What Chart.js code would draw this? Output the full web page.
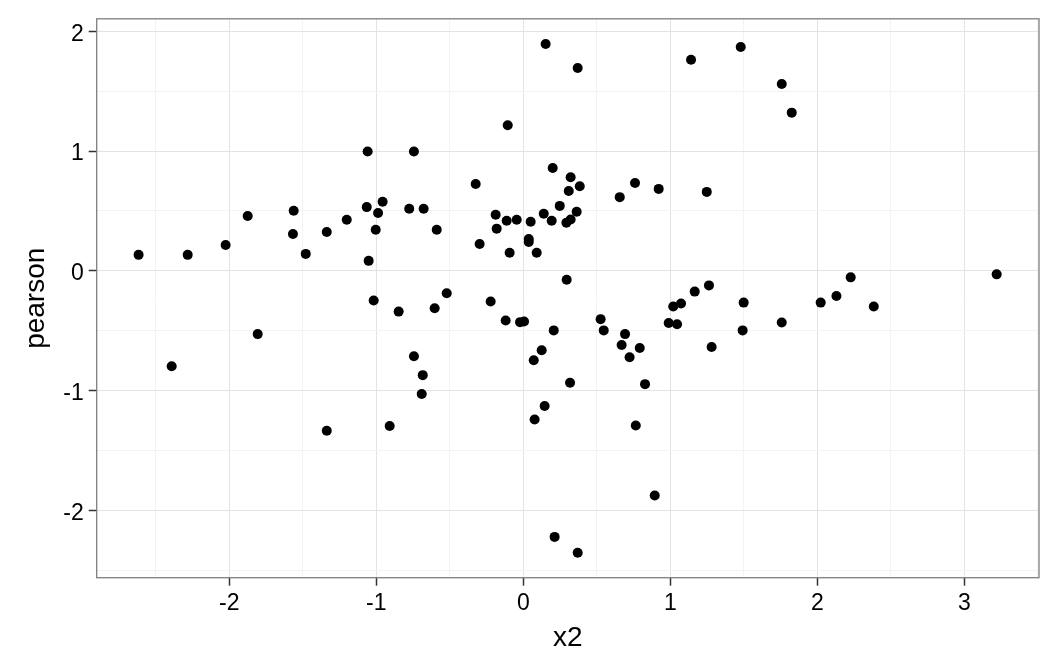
<!DOCTYPE html>
<html lang="en">
<head>
  <meta charset="UTF-8">
  <title>pearson vs x2</title>
  <script src="https://cdn.jsdelivr.net/npm/chart.js"></script>
  <style>
    html, body {
      margin: 0;
      padding: 0;
      background: #ffffff;
      overflow: hidden;
    }

    canvas {
      display: block;
    }
  </style>
</head>
<body>

<canvas id="scatterChart" width="1056" height="672"></canvas>

<script>
// values
const x2Values = [
  -2.617, -2.283, -2.025, -1.875, -1.562, -1.567, -1.480, -1.337, -1.201, -1.059,
  -1.065, -0.957, -0.988, -1.004, -1.052, -0.776, -0.744, -0.678, -0.589, -0.521,
  -0.324, -0.297, -0.106, -0.188, -0.181, -0.113, -0.045, -0.093, 0.050, 0.037,
  0.037, 0.091, 0.152, 0.370, 0.200, 0.322, 0.384, 0.309, 0.248, 0.139,
  0.193, 0.363, 0.293, 0.322, 0.656, 0.760, 0.921, 1.141, 1.248, 0.295,
  1.166, 1.263, 1.479, 1.758, 1.826, 2.227, 2.130, 3.220, -2.392, -1.807,
  -1.337, -1.018, -0.848, -0.909, -0.744, -0.684, -0.691, -0.603, -0.222, -0.120,
  -0.022, 0.005, 0.071, 0.125, 0.207, 0.318, 0.077, 0.145, 0.213, 0.370,
  0.526, 0.547, 0.692, 0.669, 0.723, 0.792, 0.828, 0.765, 0.894, 0.989,
  1.046, 1.020, 1.073, 1.281, 1.499, 1.492, 1.758, 2.023, 2.384
];

const pearsonValues = [
  0.133, 0.133, 0.216, 0.457, 0.501, 0.307, 0.141, 0.324, 0.426, 0.997,
  0.532, 0.576, 0.482, 0.343, 0.083, 0.518, 0.997, 0.518, 0.343, -0.187,
  0.725, 0.224, 1.215, 0.468, 0.352, 0.418, 0.426, 0.150, 0.410, 0.266,
  0.241, 0.150, 1.894, 1.694, 0.858, 0.781, 0.706, 0.667, 0.542, 0.476,
  0.418, 0.493, 0.401, 0.429, 0.615, 0.734, 0.684, 1.763, 0.659, -0.075,
  -0.174, -0.122, 1.869, 1.561, 1.321, -0.055, -0.210, -0.030, -0.797, -0.529,
  -1.337, -0.249, -0.341, -1.296, -0.714, -0.872, -1.030, -0.313, -0.257, -0.415,
  -0.429, -0.424, -0.748, -0.664, -0.498, -0.936, -1.243, -1.130, -2.223, -2.356,
  -0.404, -0.498, -0.529, -0.620, -0.723, -0.645, -0.947, -1.293, -1.877, -0.437,
  -0.446, -0.299, -0.274, -0.637, -0.266, -0.498, -0.432, -0.266, -0.299
];

const xRange = [-2.902, 3.508];
const yRange = [-2.564, 2.105];

const points = x2Values.map((x, i) => ({ x: x, y: pearsonValues[i] }));

const majorGrid = '#e3e3e3';
const minorGrid = '#f3f3f3';
const axisGrey = '#7f7f7f';

function isWhole(v) {
  return Math.abs(v - Math.round(v)) < 1e-9;
}

function isHalf(v) {
  return Math.abs(v * 2 - Math.round(v * 2)) < 1e-9;
}

function gridColour(ctx) {
  const v = ctx.tick.value;
  if (isWhole(v)) return majorGrid;
  if (isHalf(v)) return minorGrid;
  return 'rgba(0,0,0,0)';
}

function tickColour(ctx) {
  return isWhole(ctx.tick.value) ? '#333333' : 'rgba(0,0,0,0)';
}

// ggplot style panel border on all four sides
const panelBorder = {
  id: 'panelBorder',
  afterDraw(chart) {
    const a = chart.chartArea;
    const c = chart.ctx;
    c.save();
    c.strokeStyle = axisGrey;
    c.lineWidth = 1.3;
    c.strokeRect(a.left, a.top, a.right - a.left, a.bottom - a.top);
    c.restore();
  }
};

const ctx = document.getElementById('scatterChart').getContext('2d');

new Chart(ctx, {
  type: 'scatter',
  data: {
    datasets: [{
      data: points,
      backgroundColor: '#000000',
      borderWidth: 0,
      pointRadius: 5,
      pointHoverRadius: 5
    }]
  },
  options: {
    responsive: false,
    animation: false,
    events: [],
    layout: {
      padding: { top: 15.5, right: 17, bottom: 0, left: 0 }
    },
    plugins: {
      legend: { display: false },
      tooltip: { enabled: false }
    },
    scales: {
      x: {
        type: 'linear',
        min: xRange[0],
        max: xRange[1],
        afterFit(scale) { scale.height = 94.3; },
        border: { display: false },
        grid: {
          color: gridColour,
          tickColor: tickColour,
          lineWidth: 1,
          tickLength: 8,
          tickWidth: 1.5
        },
        ticks: {
          stepSize: 0.5,
          includeBounds: false,
          autoSkip: false,
          maxRotation: 0,
          padding: 4,
          color: '#000000',
          font: { family: 'Liberation Sans, Arial, sans-serif', size: 23 },
          callback: v => isWhole(v) ? String(Math.round(v)) : ''
        },
        title: {
          display: true,
          text: 'x2',
          color: '#000000',
          font: { family: 'Liberation Sans, Arial, sans-serif', size: 28 },
          padding: { top: 0, bottom: 16.5 }
        }
      },
      y: {
        type: 'linear',
        min: yRange[0],
        max: yRange[1],
        afterFit(scale) { scale.width = 96.7; },
        border: { display: false },
        grid: {
          color: gridColour,
          tickColor: tickColour,
          lineWidth: 1,
          tickLength: 8,
          tickWidth: 1.5
        },
        ticks: {
          stepSize: 0.5,
          includeBounds: false,
          autoSkip: false,
          padding: 5,
          labelOffset: 3,
          color: '#000000',
          font: { family: 'Liberation Sans, Arial, sans-serif', size: 23 },
          callback: v => isWhole(v) ? String(Math.round(v)) : ''
        },
        title: {
          display: true,
          text: 'pearson',
          color: '#000000',
          font: { family: 'Liberation Sans, Arial, sans-serif', size: 28 },
          padding: { top: 19, bottom: 0 }
        }
      }
    }
  },
  plugins: [panelBorder]
});
</script>

</body>
</html>
